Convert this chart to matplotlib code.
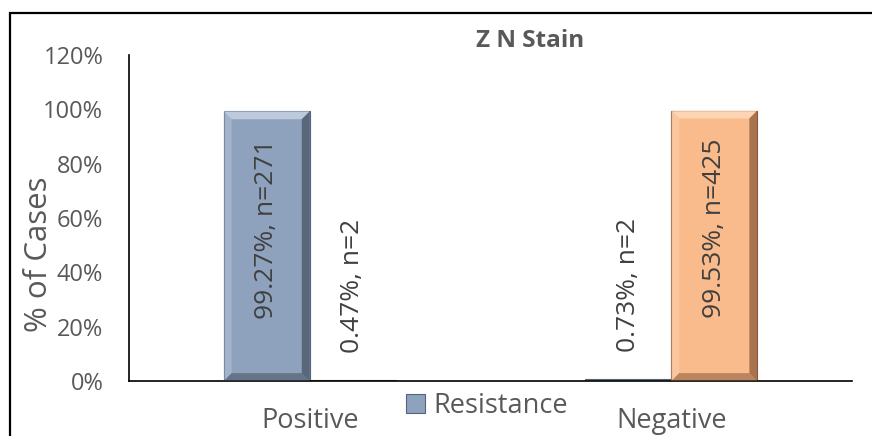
import matplotlib
matplotlib.use("Agg")
import matplotlib.pyplot as plt
import numpy as np
from matplotlib.patches import Polygon, Rectangle
from matplotlib.ticker import PercentFormatter

plt.rcParams["font.family"] = ["Open Sans", "DejaVu Sans"]

# 데이터
categories = ["Positive", "Negative"]
resistance = [99.27, 0.73]
resistance_n = [271, 2]
sensitive = [0.47, 99.53]
sensitive_n = [2, 425]
yticks = [0, 20, 40, 60, 80, 100, 120]

GREY = "#595959"
BLUE = "#8ea2bd"
ORANGE = "#f9bb8c"
BW = 0.238  # 막대 폭 (카테고리 단위)

fig = plt.figure(figsize=(8.72, 4.36), dpi=100)
ax = fig.add_axes([129 / 872, 1 - 381 / 436, (852 - 129) / 872, (381 - 55) / 436])

x = np.arange(len(categories))


def bevel(ax, bars, light, dark):
    # 엑셀 스타일 베벨 흉내: 막대 가장자리에 밝은/어두운 띠
    dx = 0.022
    dy = 2.9
    for b in bars:
        x0, y0 = b.get_x(), b.get_y()
        w, h = b.get_width(), b.get_height()
        if h < 2 * dy:
            continue
        x1, y1 = x0 + w, y0 + h
        ax.add_patch(Polygon([(x0, y1), (x1, y1), (x1 - dx, y1 - dy), (x0 + dx, y1 - dy)],
                             closed=True, fc=light, ec="none", alpha=0.8, zorder=3))
        ax.add_patch(Polygon([(x0, y0), (x0, y1), (x0 + dx, y1 - dy), (x0 + dx, y0 + dy)],
                             closed=True, fc=light, ec="none", alpha=0.35, zorder=3))
        ax.add_patch(Polygon([(x1, y0), (x1, y1), (x1 - dx, y1 - dy), (x1 - dx, y0 + dy)],
                             closed=True, fc=dark, ec="none", alpha=0.65, zorder=3))
        ax.add_patch(Polygon([(x0, y0), (x1, y0), (x1 - dx, y0 + dy), (x0 + dx, y0 + dy)],
                             closed=True, fc=dark, ec="none", alpha=0.5, zorder=3))


bars_r = ax.bar(x - BW / 2, resistance, BW, color=BLUE, edgecolor="#56627a", linewidth=0.8,
                label="Resistance", zorder=2)
bars_s = ax.bar(x + BW / 2, sensitive, BW, color=ORANGE, edgecolor="#8a5a3a", linewidth=0.8,
                zorder=2)
bevel(ax, bars_r, "#c9d5e6", "#3e4857")
bevel(ax, bars_s, "#ffdcc0", "#7d4f31")

# 막대 라벨 (세로)
for bars, vals, ns in [(bars_r, resistance, resistance_n), (bars_s, sensitive, sensitive_n)]:
    for b, v, n in zip(bars, vals, ns):
        cx = b.get_x() + b.get_width() / 2
        label = f"{v:.2f}%, n={n}"
        if v > 50:
            ax.text(cx, v - 10.2, label, rotation=90, ha="center", va="top",
                    fontsize=19, color="#404040", zorder=4)
        else:
            ax.text(cx, v + 10, label, rotation=90, ha="center", va="bottom",
                    fontsize=19, color="#404040", zorder=4)

ax.set_xlim(-0.5, 1.5)
ax.set_ylim(0, 120)
ax.set_yticks(yticks)
ax.yaxis.set_major_formatter(PercentFormatter(decimals=0))
ax.tick_params(axis="y", length=0, pad=18.5, labelsize=17, labelcolor=GREY)
ax.set_xticks(x)
ax.set_xticklabels(categories)
# 원본은 아래가 잘려 있지만 글자가 잘리지 않도록 살짝 올림
ax.tick_params(axis="x", length=0, pad=18.5, labelsize=19.5, labelcolor=GREY)
for s in ["top", "right"]:
    ax.spines[s].set_visible(False)
ax.spines["left"].set_color("black")
ax.spines["bottom"].set_color("black")
ax.spines["left"].set_linewidth(1.2)
ax.spines["bottom"].set_linewidth(1.2)

ax.set_ylabel("% of Cases", fontsize=22.5, color=GREY)
ax.yaxis.set_label_coords(-0.104, 0.39)

fig.text(530 / 872, 1 - 41 / 436, "Z N Stain", ha="center", va="center", fontsize=17.5,
         fontweight="bold", color=GREY)

leg = ax.legend(loc="center", bbox_to_anchor=(487 / 872, 1 - 406 / 436),
                bbox_transform=fig.transFigure, frameon=False, fontsize=19.5,
                handlelength=0.7, handleheight=0.7, handletextpad=0.3, borderpad=0)
for t in leg.get_texts():
    t.set_color(GREY)

# 그림 테두리 (오른쪽/아래는 잘려 있음)
fig.patches.append(Rectangle((10 / 872, -0.1), 1.0, 1.1 - 13 / 436, transform=fig.transFigure,
                             fill=False, ec="black", lw=1.6))

fig.savefig("out.png", dpi=100)
